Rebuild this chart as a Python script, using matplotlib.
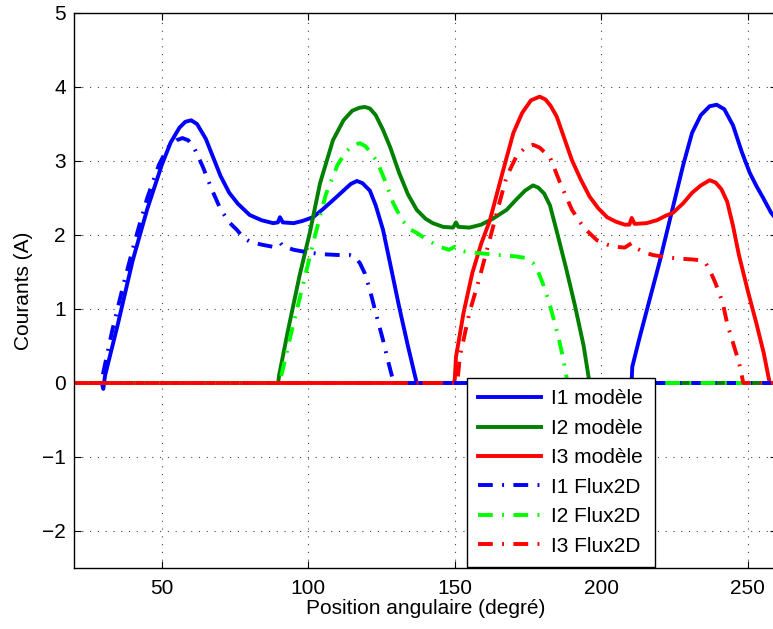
import numpy as np
import matplotlib
matplotlib.use("Agg")
import matplotlib.pyplot as plt

plt.rcParams['font.family'] = ['Liberation Sans', 'DejaVu Sans']

# I1 modele (blue solid)
i1_mod_x = [20, 29.5, 30, 30.6, 35, 40, 45, 50, 53, 56, 58, 60, 62, 65, 67.5, 70, 73, 76, 80, 84, 88,
            89.6, 90.3, 91.3, 95, 98, 101.6, 105, 108.4, 112, 114.5, 116.6, 118.5, 121, 123, 125.5,
            128, 131, 134, 137, 210, 210.4, 210.6, 213, 216, 220, 224, 228, 231, 234, 237, 239.4,
            242, 245, 248, 250.7, 253, 255, 258, 260]
i1_mod_y = [0, 0, -0.08, 0.1, 0.8, 1.65, 2.35, 2.95, 3.25, 3.45, 3.53, 3.55, 3.5, 3.3, 3.05, 2.8,
            2.57, 2.42, 2.27, 2.2, 2.16, 2.17, 2.24, 2.17, 2.16, 2.19, 2.24, 2.35, 2.47, 2.6, 2.69,
            2.73, 2.7, 2.6, 2.4, 2.07, 1.6, 1.03, 0.5, 0, 0, 0.05, 0.22, 0.6, 1.05, 1.65, 2.3, 2.95,
            3.38, 3.62, 3.74, 3.76, 3.7, 3.48, 3.12, 2.84, 2.66, 2.52, 2.3, 2.2]

# I2 modele (green solid)
i2_mod_x = [20, 89.7, 90, 93, 97, 100.5, 104, 108.4, 112, 115, 117.5, 119.3, 121, 123, 125.5, 128,
            131, 134, 137, 140, 142.5, 146, 149.4, 150.4, 151.2, 155, 159, 163, 167.7, 171, 174,
            176.7, 178.5, 180.5, 182.5, 185, 188, 191, 194, 196, 260]
i2_mod_y = [0, 0, 0.1, 0.7, 1.45, 2.03, 2.7, 3.28, 3.55, 3.68, 3.72, 3.73, 3.71, 3.62, 3.42, 3.18,
            2.84, 2.55, 2.34, 2.22, 2.16, 2.11, 2.1, 2.17, 2.11, 2.1, 2.14, 2.22, 2.34, 2.48, 2.6,
            2.67, 2.64, 2.56, 2.4, 2.02, 1.55, 1.05, 0.5, 0, 0]

# I3 modele (red solid)
i3_mod_x = [20, 149.6, 150, 150.4, 153, 156, 159, 162, 166, 170, 173, 176, 179, 181, 182.8, 184.8,
            187, 190, 193, 196, 199, 202, 205, 208, 209.6, 210.4, 211.4, 215.5, 219, 222, 224.5,
            228, 231, 234, 237, 239, 241, 243, 245, 247, 250, 253, 255.5, 257.5, 260]
i3_mod_y = [0, 0, 0.05, 0.35, 0.95, 1.49, 1.88, 2.2, 2.8, 3.38, 3.65, 3.82, 3.87, 3.83, 3.74, 3.6,
            3.35, 3.01, 2.75, 2.52, 2.36, 2.24, 2.18, 2.14, 2.14, 2.23, 2.15, 2.16, 2.2, 2.26, 2.3,
            2.43, 2.57, 2.67, 2.74, 2.71, 2.62, 2.45, 2.12, 1.73, 1.25, 0.8, 0.4, 0, 0]

# I1 Flux2D (blue dash-dot)
i1_fd_x = [20, 29, 29.5, 33, 37, 41, 45, 49, 52, 55, 57, 59, 61, 64, 67, 70, 73, 75.6, 77.7, 80,
           84, 88, 89.5, 90.5, 91.3, 95, 100.5, 105, 110, 114, 116, 117.6, 119.3, 121, 123, 125.5,
           127, 128.5, 129.2, 260]
i1_fd_y = [0, 0, 0.05, 0.7, 1.35, 1.95, 2.5, 2.95, 3.18, 3.28, 3.31, 3.28, 3.18, 2.92, 2.62, 2.35,
           2.17, 2.07, 1.97, 1.91, 1.87, 1.84, 1.86, 1.89, 1.85, 1.8, 1.76, 1.74, 1.73, 1.73, 1.7,
           1.62, 1.48, 1.26, 0.95, 0.58, 0.33, 0.1, 0, 0]

# I2 Flux2D (green dash-dot)
i2_fd_x = [20, 90, 90.5, 94, 98, 102, 106, 110, 113, 115.5, 117.6, 119.5, 121.5, 123.4, 126, 129,
           132, 135, 137, 140, 143, 145, 148, 150, 152, 154, 159.6, 165, 171, 174, 176.7, 178.5,
           180, 182, 183.5, 185.5, 187, 188.5, 260]
i2_fd_y = [0, 0, 0.05, 0.65, 1.3, 1.95, 2.55, 2.95, 3.13, 3.22, 3.24, 3.2, 3.1, 3.0, 2.75, 2.43,
           2.2, 2.07, 2.03, 1.95, 1.88, 1.84, 1.8, 1.84, 1.79, 1.77, 1.75, 1.73, 1.71, 1.69, 1.62,
           1.5, 1.35, 1.12, 0.9, 0.6, 0.33, 0, 0]

# I3 Flux2D (red dash-dot)
i3_fd_x = [20, 150.6, 151, 151.7, 155, 158.5, 162, 165, 167.7, 171, 174, 176.7, 179, 182.5, 186,
           190, 194, 198.5, 202, 205, 208, 210.4, 212, 215, 217.6, 222, 227, 231, 233.6, 235.5, 237,
           239, 241.5, 243, 245, 247, 248.5, 260]
i3_fd_y = [0, 0, 0.05, 0.35, 0.95, 1.43, 1.95, 2.4, 2.79, 3.06, 3.18, 3.22, 3.18, 3.05, 2.7, 2.34,
           2.1, 1.93, 1.87, 1.84, 1.83, 1.89, 1.82, 1.76, 1.73, 1.7, 1.68, 1.67, 1.66, 1.63, 1.53,
           1.35, 1.08, 0.8, 0.54, 0.28, 0, 0]

fig = plt.figure(figsize=(7.73, 6.29), dpi=100)
ax = fig.add_axes([74 / 773, 61 / 629, 703 / 773, 555 / 629])

lw = 2.8
dd = (0, (3.8, 2.4, 0.5, 2.4))
ax.plot(i1_mod_x, i1_mod_y, color='#0000ff', lw=lw, label='I1 modèle')
ax.plot(i2_mod_x, i2_mod_y, color='#008000', lw=lw, label='I2 modèle')
ax.plot(i3_mod_x, i3_mod_y, color='#ff0000', lw=lw, label='I3 modèle')
ax.plot(i1_fd_x, i1_fd_y, color='#0000ff', lw=lw, ls=dd, label='I1 Flux2D')
ax.plot(i2_fd_x, i2_fd_y, color='#00ff00', lw=lw, ls=dd, label='I2 Flux2D')
ax.plot(i3_fd_x, i3_fd_y, color='#ff0000', lw=lw, ls=dd, label='I3 Flux2D')

ax.set_xlim(20, 260)
ax.set_ylim(-2.5, 5)
ax.set_xticks([50, 100, 150, 200, 250])
ax.set_yticks([-2, -1, 0, 1, 2, 3, 4, 5])
ax.set_yticklabels(['\u22122', '\u22121', '0', '1', '2', '3', '4', '5'])
ax.tick_params(direction='in', top=True, right=True, labelsize=15, length=5, width=0.8)
ax.tick_params(axis='x', pad=8)
ax.tick_params(axis='y', pad=6)
ax.grid(True, ls=(0, (1, 6)), color='#444444', lw=0.8)
for s in ax.spines.values():
    s.set_linewidth(1.0)

ax.set_xlabel('Position angulaire (degré)', fontsize=15, labelpad=1)
ax.set_ylabel('Courants (A)', fontsize=15, labelpad=6)

leg = ax.legend(loc='upper left', bbox_to_anchor=(467 / 773, 1 - 378 / 629),
                bbox_transform=fig.transFigure, fontsize=15, frameon=True, fancybox=False,
                handlelength=3.0, labelspacing=0.5, borderpad=0.55, handletextpad=0.5,
                borderaxespad=0, handleheight=0.7)
leg.get_frame().set_edgecolor('black')
leg.get_frame().set_linewidth(1.0)
leg.get_frame().set_alpha(1)

fig.savefig('out.png', dpi=100)
